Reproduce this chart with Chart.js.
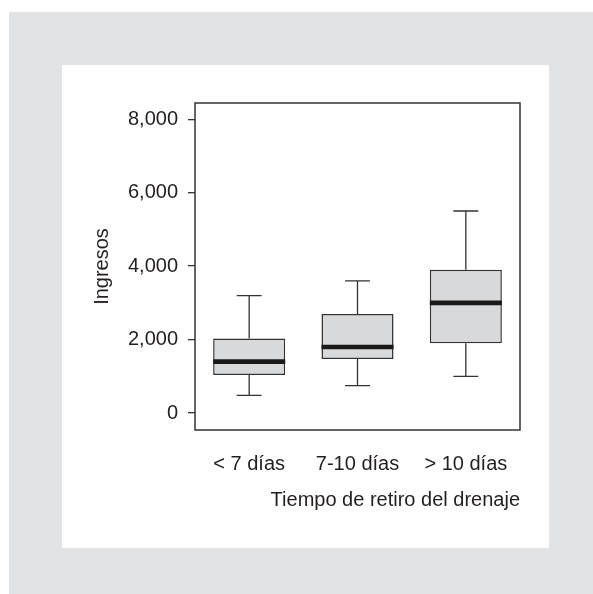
<!DOCTYPE html>
<html>
<head>
    <meta charset="utf-8">
    <title>Ingresos por tiempo de retiro del drenaje</title>
    <meta name="viewport" content="width=device-width, initial-scale=1.0">
    <style>
        body { margin: 0; background: #ffffff; }
        #fondo {
            position: absolute; left: 9px; top: 12px;
            width: 584px; height: 582px;
            background: #e2e3e5;
        }
        #panel {
            position: absolute; left: 53px; top: 53px;
            width: 487px; height: 483px;
            background: #ffffff;
        }
    </style>
</head>

<body>
    <div id="fondo">
        <div id="panel">
            <canvas id="boxChart"></canvas>
        </div>
    </div>

    <script src="https://cdn.jsdelivr.net/npm/chart.js"></script>

    <script>
        // Datos
        var categorias = ['< 7 días', '7-10 días', '> 10 días'];
        var minimos = [480, 750, 1000];
        var q1 = [1040, 1470, 1900];
        var medianas = [1400, 1800, 3000];
        var q3 = [2030, 2700, 3900];
        var maximos = [3200, 3600, 5500];
        var yTicks = [0, 2000, 4000, 6000, 8000];

        var textColor = '#231f20';
        var lineColor = '#333333';

        // cajas como barras flotantes q1..q3
        var cajas = [];
        for (var i = 0; i < categorias.length; i++) {
            cajas.push([q1[i], q3[i]]);
        }

        // bigotes, mediana y marco del area
        var boxPlugin = {
            id: 'boxExtras',
            afterDatasetsDraw: function(chart) {
                var ctx = chart.ctx;
                var x = chart.scales.x;
                var y = chart.scales.y;
                var anchoCat = x.getPixelForValue(1) - x.getPixelForValue(0);
                var mediaCaja = anchoCat * 0.665 / 2;
                var mediaTope = anchoCat * 0.115;
                ctx.save();
                for (var i = 0; i < categorias.length; i++) {
                    var cx = x.getPixelForValue(i);
                    ctx.strokeStyle = lineColor;
                    ctx.lineWidth = 1.3;
                    ctx.beginPath();
                    // bigote superior
                    ctx.moveTo(cx, y.getPixelForValue(q3[i]));
                    ctx.lineTo(cx, y.getPixelForValue(maximos[i]));
                    ctx.moveTo(cx - mediaTope, y.getPixelForValue(maximos[i]));
                    ctx.lineTo(cx + mediaTope, y.getPixelForValue(maximos[i]));
                    // bigote inferior
                    ctx.moveTo(cx, y.getPixelForValue(q1[i]));
                    ctx.lineTo(cx, y.getPixelForValue(minimos[i]));
                    ctx.moveTo(cx - mediaTope, y.getPixelForValue(minimos[i]));
                    ctx.lineTo(cx + mediaTope, y.getPixelForValue(minimos[i]));
                    ctx.stroke();
                    // mediana
                    ctx.strokeStyle = '#1a1a1a';
                    ctx.lineWidth = 4.6;
                    ctx.beginPath();
                    ctx.moveTo(cx - mediaCaja, y.getPixelForValue(medianas[i]));
                    ctx.lineTo(cx + mediaCaja, y.getPixelForValue(medianas[i]));
                    ctx.stroke();
                }
                var a = chart.chartArea;
                ctx.strokeStyle = lineColor;
                ctx.lineWidth = 1.5;
                ctx.strokeRect(a.left, a.top, a.right - a.left, a.bottom - a.top);
                ctx.restore();
            }
        };

        var fuente = { family: '"Liberation Sans", Arial, sans-serif', size: 20 };

        new Chart(document.getElementById('boxChart').getContext('2d'), {
            type: 'bar',
            data: {
                labels: categorias,
                datasets: [{
                    data: cajas,
                    backgroundColor: '#d8d9db',
                    borderColor: lineColor,
                    borderWidth: 1.5,
                    borderSkipped: false,
                    categoryPercentage: 1,
                    barPercentage: 0.665
                }]
            },
            options: {
                responsive: true,
                maintainAspectRatio: false,
                animation: false,
                layout: { padding: { top: 38, right: 29, left: 0, bottom: 0 } },
                plugins: {
                    legend: { display: false },
                    tooltip: { enabled: false }
                },
                scales: {
                    x: {
                        grid: { display: false },
                        border: { display: false },
                        ticks: { color: textColor, font: fuente, padding: 14, maxRotation: 0 },
                        title: {
                            display: true,
                            text: 'Tiempo de retiro del drenaje',
                            align: 'end',
                            color: textColor,
                            font: fuente,
                            padding: { top: 0, bottom: 36 }
                        },
                        afterFit: function(scale) { scale.height = 118; }
                    },
                    y: {
                        min: -460,
                        max: 8440,
                        grid: { drawOnChartArea: false, tickLength: 7, color: lineColor, lineWidth: 1.3 },
                        border: { display: false },
                        afterBuildTicks: function(scale) {
                            scale.ticks = yTicks.map(function(v) { return { value: v }; });
                        },
                        ticks: {
                            color: textColor,
                            font: fuente,
                            padding: 10,
                            callback: function(v) { return v.toLocaleString('en-US'); }
                        },
                        title: {
                            display: true,
                            text: 'Ingresos',
                            color: textColor,
                            font: fuente,
                            padding: { top: 28, bottom: 0 }
                        },
                        afterFit: function(scale) { scale.width = 133; }
                    }
                }
            },
            plugins: [boxPlugin]
        });
    </script>
</body>
</html>
